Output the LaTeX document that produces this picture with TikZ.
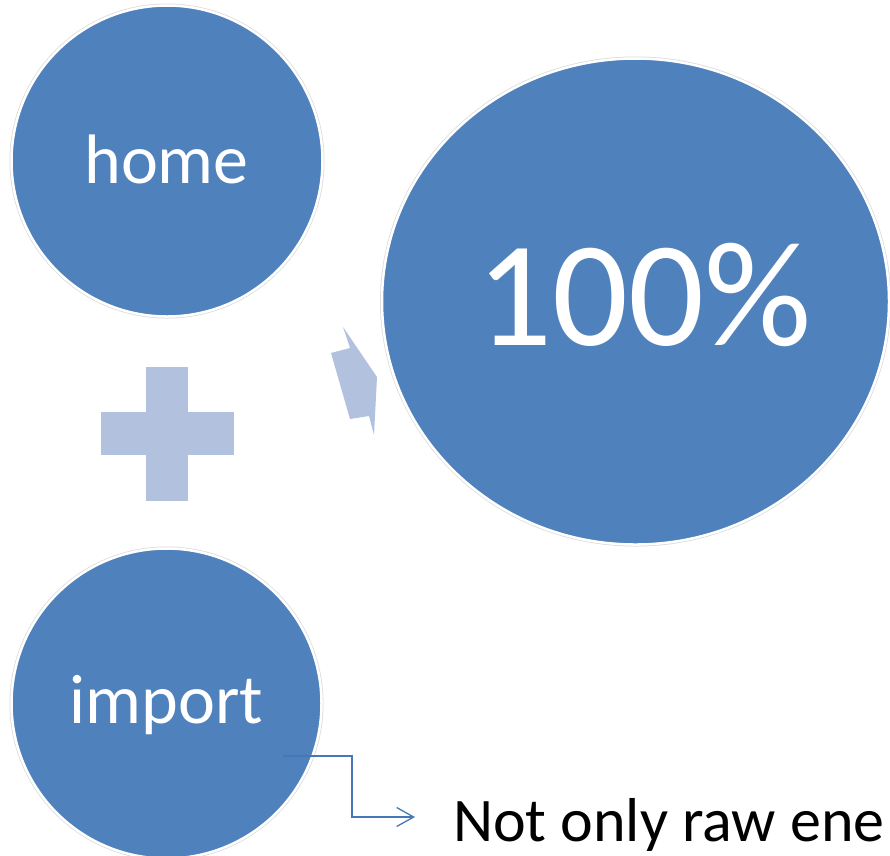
\documentclass[tikz,border=0pt]{standalone}
\usepackage{fontspec}
\setmainfont{Carlito}
\usetikzlibrary{shapes.geometric,arrows.meta}
\definecolor{ppblue}{RGB}{79,129,189}
\definecolor{ppline}{RGB}{70,120,182}
\definecolor{pplight}{RGB}{178,194,222}
\tikzset{
  bubble/.style={inner sep=0pt, fill=ppblue, draw=white, line width=2.5pt,
    preaction={draw=black!14, line width=4pt}},
  bubbletext/.style={text=white, inner sep=0pt, anchor=base},
  conn/.style={draw=ppline, line width=1.3pt, -{Straight Barb[length=17pt,width=19pt,line width=1.3pt]}},
  lightshape/.style={fill=pplight, draw=none}
}
\begin{document}
\begin{tikzpicture}[x=1pt,y=-1pt]
\useasboundingbox (0,0) rectangle (890,855);
\clip (0,0) rectangle (890,855);
\fill[white] (0,0) rectangle (890,855);
% bubbles
\node[bubble, circle, minimum size=311pt] (home) at (167,161) {};
\node[bubble, circle, minimum size=310pt] (imp) at (166.5,703.5) {};
\node[bubble, ellipse, minimum width=507pt, minimum height=486pt] (big) at (635.5,301.5) {};
% texts
\node[bubbletext, font=\fontsize{70}{84}\selectfont] (homet) at (166.5,183) {home};
\node[bubbletext, font=\fontsize{70}{84}\selectfont] (impt) at (166.5,723) {import};
\node[bubbletext, font=\fontsize{150}{180}\selectfont] (bigt) at (644,345) {100\%};
% plus sign
\fill[lightshape] (145.7,366.7) rectangle (187.7,500.7);
\fill[lightshape] (100.7,412) rectangle (234,455);
% partial arrow
\fill[lightshape] (343,327) -- (377,377) -- (374,435) -- (369,416) -- (350,419) -- (331,353) -- (350,348) -- cycle;
% connector and note
\node[inner sep=0pt, anchor=base west, font=\fontsize{62}{74}\selectfont] (note) at (453,841) {Not only raw ene};
\coordinate (cstart) at (283,756);
\coordinate (ctip) at (415,817);
\draw[conn] (cstart) -- (352,756) |- (ctip);
\end{tikzpicture}
\end{document}
